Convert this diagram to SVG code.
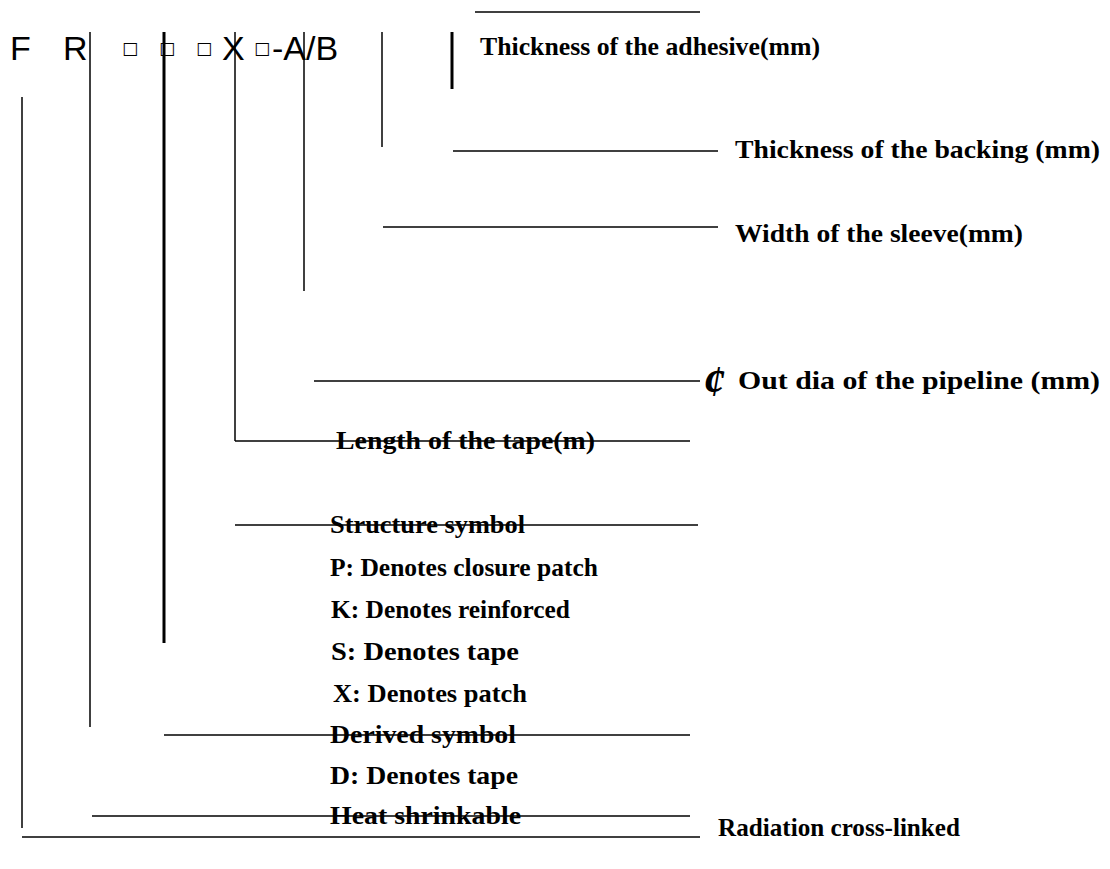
<svg xmlns="http://www.w3.org/2000/svg" width="1110" height="869" viewBox="0 0 1110 869">
<style>
.hd{font-family:"Liberation Sans",Arial,sans-serif;font-size:34px;fill:#000}
.sq{font-family:"DejaVu Sans",sans-serif;font-size:17px;fill:#000}
.lb{font-family:"Liberation Serif","Times New Roman",serif;font-size:25px;font-weight:bold;fill:#000}
.ln{stroke:#000;stroke-width:1.5;fill:none}
.tk{stroke:#000;stroke-width:3;fill:none}
</style>
<rect width="1110" height="869" fill="#fff"/>
<g id="code">
<text class="hd" x="10" y="60">F</text>
<text class="hd" x="63" y="60">R</text>
<text class="sq" x="122" y="54">□</text>
<text class="sq" x="159" y="54">□</text>
<text class="sq" x="196" y="54">□</text>
<text class="hd" x="222" y="60">X</text>
<text class="sq" x="254" y="54">□</text>
<text class="hd" x="272" y="60">-A/B</text>
</g>
<g id="connectors">
<line class="ln" x1="475" y1="12" x2="700" y2="12"/>
<line class="tk" x1="452" y1="32" x2="452" y2="89"/>
<line class="ln" x1="382" y1="32" x2="382" y2="147"/>
<line class="ln" x1="453" y1="151" x2="718" y2="151"/>
<line class="ln" x1="304" y1="32" x2="304" y2="291"/>
<line class="ln" x1="383" y1="227" x2="718" y2="227"/>
<line class="ln" x1="314" y1="381" x2="700" y2="381"/>
<line class="ln" x1="235" y1="32" x2="235" y2="441"/>
<line class="ln" x1="235" y1="441" x2="690" y2="441"/>
<line class="ln" x1="235" y1="525" x2="698" y2="525"/>
<line class="tk" x1="164" y1="32" x2="164" y2="643"/>
<line class="ln" x1="90" y1="32" x2="90" y2="727"/>
<line class="ln" x1="164" y1="735" x2="690" y2="735"/>
<line class="ln" x1="92" y1="816" x2="690" y2="816"/>
<line class="ln" x1="22" y1="97" x2="22" y2="828"/>
<line class="ln" x1="22" y1="837" x2="700" y2="837"/>
</g>
<g id="labels">
<text class="lb" x="480" y="55" textLength="340" lengthAdjust="spacingAndGlyphs">Thickness of the adhesive(mm)</text>
<text class="lb" x="735" y="158" textLength="365" lengthAdjust="spacingAndGlyphs">Thickness of the backing (mm)</text>
<text class="lb" x="735" y="242" textLength="288" lengthAdjust="spacingAndGlyphs">Width of the sleeve(mm)</text>
<text class="lb" x="703" y="396" style="font-size:44px;font-style:italic">¢</text>
<text class="lb" x="738" y="389" textLength="362" lengthAdjust="spacingAndGlyphs">Out dia of the pipeline (mm)</text>
<text class="lb" x="336" y="449" textLength="259" lengthAdjust="spacingAndGlyphs">Length of the tape(m)</text>
<text class="lb" x="330" y="533" textLength="195" lengthAdjust="spacingAndGlyphs">Structure symbol</text>
<text class="lb" x="330" y="576" textLength="268" lengthAdjust="spacingAndGlyphs">P: Denotes closure patch</text>
<text class="lb" x="331" y="618" textLength="239" lengthAdjust="spacingAndGlyphs">K: Denotes reinforced</text>
<text class="lb" x="331" y="660" textLength="188" lengthAdjust="spacingAndGlyphs">S: Denotes tape</text>
<text class="lb" x="333" y="702" textLength="194" lengthAdjust="spacingAndGlyphs">X: Denotes patch</text>
<text class="lb" x="330" y="743" textLength="186" lengthAdjust="spacingAndGlyphs">Derived symbol</text>
<text class="lb" x="330" y="784" textLength="188" lengthAdjust="spacingAndGlyphs">D: Denotes tape</text>
<text class="lb" x="330" y="824" textLength="191" lengthAdjust="spacingAndGlyphs">Heat shrinkable</text>
<text class="lb" x="718" y="836" textLength="242" lengthAdjust="spacingAndGlyphs">Radiation cross-linked</text>
</g>
</svg>
